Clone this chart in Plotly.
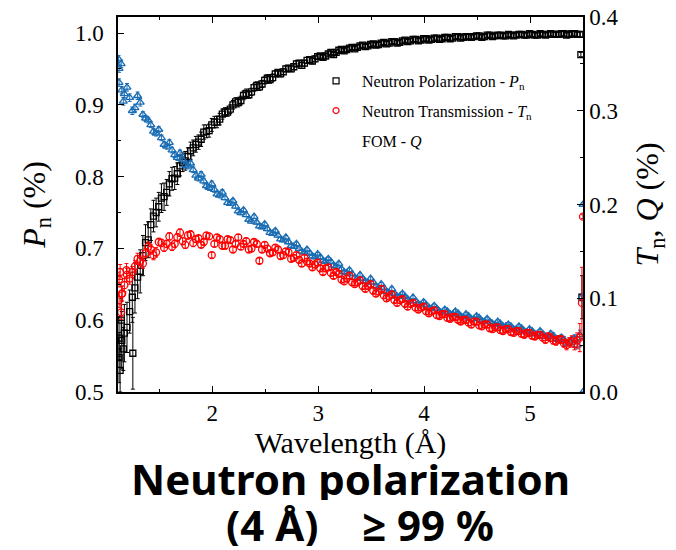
import plotly.graph_objects as go

# ---- measurement set A ----
wavelength = [1.12, 1.17, 1.22, 1.27, 1.32, 1.37, 1.42, 1.47, 1.52, 1.57,
              1.62, 1.67, 1.72, 1.77, 1.82, 1.87, 1.92, 1.97, 2.02, 2.07,
              2.12, 2.17, 2.22, 2.27, 2.32, 2.37, 2.42, 2.47, 2.52, 2.57,
              2.62, 2.67, 2.72, 2.77, 2.82, 2.87, 2.92, 2.97, 3.02, 3.07,
              3.12, 3.17, 3.22, 3.27, 3.32, 3.37, 3.42, 3.47, 3.52, 3.57,
              3.62, 3.67, 3.72, 3.77, 3.82, 3.87, 3.92, 3.97, 4.02, 4.07,
              4.12, 4.17, 4.22, 4.27, 4.32, 4.37, 4.42, 4.47, 4.52, 4.57,
              4.62, 4.67, 4.72, 4.77, 4.82, 4.87, 4.92, 4.97, 5.02, 5.07,
              5.12, 5.17, 5.22, 5.27, 5.32, 5.37, 5.42, 5.47]

polarization = [0.548, 0.582, 0.612, 0.645, 0.668, 0.708, 0.733, 0.750, 0.770, 0.778,
                0.797, 0.804, 0.820, 0.828, 0.840, 0.848, 0.862, 0.864, 0.876, 0.880,
                0.890, 0.894, 0.904, 0.906, 0.916, 0.918, 0.927, 0.929, 0.937, 0.938,
                0.945, 0.946, 0.951, 0.953, 0.958, 0.958, 0.963, 0.964, 0.968, 0.968,
                0.973, 0.973, 0.977, 0.977, 0.980, 0.980, 0.983, 0.982, 0.985, 0.984,
                0.987, 0.986, 0.988, 0.987, 0.990, 0.989, 0.991, 0.990, 0.992, 0.991,
                0.993, 0.992, 0.994, 0.993, 0.995, 0.994, 0.995, 0.995, 0.996, 0.995,
                0.997, 0.996, 0.997, 0.996, 0.997, 0.997, 0.998, 0.997, 0.998, 0.997,
                0.998, 0.998, 0.998, 0.998, 0.999, 0.998, 0.999, 0.998]
polarization_err = [0.035, 0.040, 0.030, 0.035, 0.030, 0.025, 0.022, 0.020, 0.020, 0.018,
                    0.016, 0.015, 0.013, 0.012, 0.011, 0.010, 0.010, 0.009, 0.008, 0.008,
                    0.006, 0.006, 0.006, 0.006, 0.006, 0.005, 0.005, 0.005, 0.005, 0.005,
                    0.004, 0.004, 0.004, 0.004, 0.004, 0.004, 0.004, 0.004, 0.003, 0.003,
                    0.003, 0.003, 0.003, 0.003, 0.003, 0.003, 0.003, 0.003, 0.003, 0.003,
                    0.003, 0.003, 0.003, 0.003, 0.003, 0.003, 0.003, 0.003, 0.003, 0.003,
                    0.003, 0.003, 0.003, 0.003, 0.003, 0.003, 0.003, 0.003, 0.003, 0.003,
                    0.003, 0.003, 0.003, 0.003, 0.003, 0.003, 0.003, 0.003, 0.003, 0.003,
                    0.003, 0.003, 0.003, 0.003, 0.003, 0.003, 0.003, 0.003]

transmission = [0.098, 0.114, 0.121, 0.134, 0.140, 0.148, 0.152, 0.149, 0.159, 0.158,
                0.155, 0.165, 0.161, 0.167, 0.159, 0.164, 0.160, 0.166, 0.158, 0.163,
                0.156, 0.162, 0.158, 0.155, 0.161, 0.153, 0.158, 0.152, 0.153, 0.149,
                0.152, 0.146, 0.149, 0.143, 0.141, 0.143, 0.137, 0.136, 0.132, 0.132,
                0.127, 0.128, 0.120, 0.121, 0.117, 0.117, 0.113, 0.113, 0.108, 0.107,
                0.103, 0.102, 0.098, 0.098, 0.094, 0.094, 0.090, 0.090, 0.086, 0.086,
                0.082, 0.083, 0.079, 0.080, 0.077, 0.077, 0.074, 0.075, 0.071, 0.072,
                0.068, 0.069, 0.066, 0.067, 0.064, 0.065, 0.062, 0.063, 0.060, 0.061,
                0.058, 0.059, 0.055, 0.056, 0.052, 0.053, 0.051, 0.058]
transmission_err = [0.008, 0.007, 0.006, 0.006, 0.005, 0.005, 0.005, 0.005, 0.004, 0.004,
                    0.004, 0.004, 0.004, 0.004, 0.004, 0.003, 0.003, 0.003, 0.003, 0.003,
                    0.003, 0.003, 0.003, 0.003, 0.003, 0.003, 0.003, 0.003, 0.003, 0.003,
                    0.003, 0.003, 0.003, 0.003, 0.003, 0.003, 0.003, 0.003, 0.003, 0.003,
                    0.003, 0.003, 0.003, 0.003, 0.003, 0.003, 0.003, 0.003, 0.003, 0.003,
                    0.003, 0.003, 0.003, 0.003, 0.003, 0.003, 0.003, 0.003, 0.003, 0.003,
                    0.003, 0.003, 0.003, 0.003, 0.003, 0.003, 0.003, 0.003, 0.003, 0.003,
                    0.003, 0.003, 0.003, 0.003, 0.003, 0.003, 0.003, 0.003, 0.003, 0.003,
                    0.003, 0.004, 0.004, 0.004, 0.004, 0.005, 0.006, 0.015]

fom = [0.345, 0.318, 0.314, 0.303, 0.309, 0.292, 0.285, 0.276, 0.271, 0.262,
       0.258, 0.250, 0.248, 0.241, 0.237, 0.228, 0.225, 0.218, 0.216, 0.210,
       0.207, 0.201, 0.198, 0.191, 0.189, 0.182, 0.181, 0.176, 0.174, 0.169,
       0.167, 0.162, 0.160, 0.155, 0.153, 0.149, 0.148, 0.144, 0.144, 0.139,
       0.139, 0.134, 0.131, 0.127, 0.126, 0.121, 0.121, 0.117, 0.117, 0.111,
       0.111, 0.106, 0.105, 0.102, 0.102, 0.097, 0.097, 0.093, 0.093, 0.089,
       0.089, 0.085, 0.086, 0.083, 0.084, 0.080, 0.081, 0.078, 0.079, 0.075,
       0.075, 0.072, 0.073, 0.070, 0.070, 0.067, 0.068, 0.064, 0.065, 0.062,
       0.062, 0.059, 0.060, 0.056, 0.056, 0.053, 0.057, 0.061]
fom_err = [0.004, 0.004, 0.004, 0.004, 0.004, 0.003, 0.003, 0.003, 0.003, 0.003,
           0.003, 0.003, 0.003, 0.003, 0.003, 0.003, 0.003, 0.003, 0.003, 0.003,
           0.002, 0.002, 0.002, 0.002, 0.002, 0.002, 0.002, 0.002, 0.002, 0.002,
           0.002, 0.002, 0.002, 0.002, 0.002, 0.002, 0.002, 0.002, 0.002, 0.002,
           0.002, 0.002, 0.002, 0.002, 0.002, 0.002, 0.002, 0.002, 0.002, 0.002,
           0.002, 0.002, 0.002, 0.002, 0.002, 0.002, 0.002, 0.002, 0.002, 0.002,
           0.002, 0.002, 0.002, 0.002, 0.002, 0.002, 0.002, 0.002, 0.002, 0.002,
           0.002, 0.002, 0.002, 0.002, 0.002, 0.002, 0.002, 0.002, 0.002, 0.002,
           0.002, 0.002, 0.003, 0.003, 0.003, 0.003, 0.004, 0.005]

# ---- measurement set B (interleaved wavelengths) ----
wavelength_b = [1.145, 1.195, 1.245, 1.295, 1.345, 1.395, 1.445, 1.495, 1.545, 1.595,
                1.645, 1.695, 1.745, 1.795, 1.845, 1.895, 1.945, 1.995, 2.045, 2.095,
                2.145, 2.195, 2.245, 2.295, 2.345, 2.395, 2.445, 2.495, 2.545, 2.595,
                2.645, 2.695, 2.745, 2.795, 2.845, 2.895, 2.945, 2.995, 3.045, 3.095,
                3.145, 3.195, 3.245, 3.295, 3.345, 3.395, 3.445, 3.495, 3.545, 3.595,
                3.645, 3.695, 3.745, 3.795, 3.845, 3.895, 3.945, 3.995, 4.045, 4.095,
                4.145, 4.195, 4.245, 4.295, 4.345, 4.395, 4.445, 4.495, 4.545, 4.595,
                4.645, 4.695, 4.745, 4.795, 4.845, 4.895, 4.945, 4.995, 5.045, 5.095,
                5.145, 5.195, 5.245, 5.295, 5.345, 5.395, 5.445]

polarization_b = [0.572, 0.590, 0.632, 0.660, 0.690, 0.712, 0.745, 0.758, 0.772, 0.790,
                  0.798, 0.815, 0.822, 0.836, 0.845, 0.852, 0.863, 0.872, 0.876, 0.887,
                  0.890, 0.900, 0.903, 0.913, 0.914, 0.924, 0.925, 0.934, 0.935, 0.943,
                  0.943, 0.950, 0.950, 0.957, 0.955, 0.962, 0.961, 0.967, 0.966, 0.971,
                  0.970, 0.976, 0.975, 0.979, 0.978, 0.982, 0.981, 0.984, 0.983, 0.986,
                  0.985, 0.988, 0.986, 0.989, 0.988, 0.991, 0.989, 0.992, 0.990, 0.993,
                  0.991, 0.994, 0.992, 0.995, 0.993, 0.995, 0.994, 0.996, 0.994, 0.997,
                  0.995, 0.997, 0.996, 0.998, 0.996, 0.998, 0.997, 0.999, 0.997, 0.999,
                  0.997, 0.999, 0.998, 0.999, 0.997, 0.999, 0.998]
polarization_b_err = [0.040, 0.035, 0.035, 0.030, 0.028, 0.025, 0.022, 0.020, 0.019, 0.017,
                      0.016, 0.014, 0.013, 0.012, 0.011, 0.010, 0.009, 0.009, 0.008, 0.007,
                      0.006, 0.006, 0.006, 0.006, 0.005, 0.005, 0.005, 0.005, 0.005, 0.004,
                      0.004, 0.004, 0.004, 0.004, 0.004, 0.004, 0.004, 0.003, 0.003, 0.003,
                      0.003, 0.003, 0.003, 0.003, 0.003, 0.003, 0.003, 0.003, 0.003, 0.003,
                      0.003, 0.003, 0.003, 0.003, 0.003, 0.003, 0.003, 0.003, 0.003, 0.003,
                      0.003, 0.003, 0.003, 0.003, 0.003, 0.003, 0.003, 0.003, 0.003, 0.003,
                      0.003, 0.003, 0.003, 0.003, 0.003, 0.003, 0.003, 0.003, 0.003, 0.003,
                      0.003, 0.003, 0.003, 0.003, 0.003, 0.003, 0.003]

transmission_b = [0.105, 0.125, 0.128, 0.142, 0.137, 0.155, 0.146, 0.160, 0.154, 0.166,
                  0.158, 0.170, 0.157, 0.168, 0.163, 0.157, 0.167, 0.146, 0.165, 0.156,
                  0.163, 0.152, 0.165, 0.158, 0.152, 0.160, 0.140, 0.157, 0.148, 0.154,
                  0.145, 0.150, 0.142, 0.146, 0.137, 0.139, 0.133, 0.138, 0.128, 0.133,
                  0.124, 0.126, 0.118, 0.124, 0.115, 0.119, 0.110, 0.115, 0.105, 0.110,
                  0.100, 0.104, 0.095, 0.099, 0.091, 0.095, 0.088, 0.091, 0.084, 0.087,
                  0.081, 0.083, 0.078, 0.080, 0.075, 0.077, 0.072, 0.075, 0.070, 0.072,
                  0.067, 0.069, 0.065, 0.067, 0.063, 0.065, 0.061, 0.063, 0.059, 0.061,
                  0.056, 0.058, 0.054, 0.056, 0.050, 0.054, 0.055]
transmission_b_err = [0.008, 0.007, 0.006, 0.006, 0.005, 0.005, 0.005, 0.004, 0.004, 0.004,
                      0.004, 0.004, 0.004, 0.004, 0.003, 0.003, 0.003, 0.003, 0.003, 0.003,
                      0.003, 0.003, 0.003, 0.003, 0.003, 0.003, 0.003, 0.003, 0.003, 0.003,
                      0.003, 0.003, 0.003, 0.003, 0.003, 0.003, 0.003, 0.003, 0.003, 0.003,
                      0.003, 0.003, 0.003, 0.003, 0.003, 0.003, 0.003, 0.003, 0.003, 0.003,
                      0.003, 0.003, 0.003, 0.003, 0.003, 0.003, 0.003, 0.003, 0.003, 0.003,
                      0.003, 0.003, 0.003, 0.003, 0.003, 0.003, 0.003, 0.003, 0.003, 0.003,
                      0.003, 0.003, 0.003, 0.003, 0.003, 0.003, 0.003, 0.003, 0.003, 0.003,
                      0.004, 0.004, 0.004, 0.004, 0.005, 0.006, 0.008]

fom_b = [0.322, 0.325, 0.300, 0.316, 0.296, 0.290, 0.278, 0.280, 0.264, 0.266,
         0.253, 0.255, 0.242, 0.244, 0.231, 0.232, 0.220, 0.222, 0.211, 0.213,
         0.202, 0.204, 0.193, 0.194, 0.184, 0.187, 0.177, 0.179, 0.170, 0.172,
         0.163, 0.165, 0.156, 0.158, 0.150, 0.152, 0.145, 0.147, 0.140, 0.142,
         0.135, 0.137, 0.128, 0.130, 0.122, 0.125, 0.118, 0.121, 0.113, 0.115,
         0.107, 0.110, 0.102, 0.105, 0.099, 0.101, 0.094, 0.096, 0.090, 0.092,
         0.086, 0.088, 0.083, 0.086, 0.081, 0.083, 0.078, 0.081, 0.076, 0.078,
         0.073, 0.075, 0.070, 0.072, 0.067, 0.070, 0.065, 0.067, 0.062, 0.065,
         0.059, 0.062, 0.057, 0.058, 0.052, 0.055, 0.050]
fom_b_err = [0.004, 0.004, 0.004, 0.004, 0.003, 0.003, 0.003, 0.003, 0.003, 0.003,
             0.003, 0.003, 0.003, 0.003, 0.003, 0.003, 0.003, 0.003, 0.003, 0.003,
             0.002, 0.002, 0.002, 0.002, 0.002, 0.002, 0.002, 0.002, 0.002, 0.002,
             0.002, 0.002, 0.002, 0.002, 0.002, 0.002, 0.002, 0.002, 0.002, 0.002,
             0.002, 0.002, 0.002, 0.002, 0.002, 0.002, 0.002, 0.002, 0.002, 0.002,
             0.002, 0.002, 0.002, 0.002, 0.002, 0.002, 0.002, 0.002, 0.002, 0.002,
             0.002, 0.002, 0.002, 0.002, 0.002, 0.002, 0.002, 0.002, 0.002, 0.002,
             0.002, 0.002, 0.002, 0.002, 0.002, 0.002, 0.002, 0.002, 0.002, 0.002,
             0.002, 0.003, 0.003, 0.003, 0.003, 0.004, 0.004]

# ---- additional scattered points at the band edges ----
pol_extra_x = [1.12, 1.13, 1.14, 1.16, 1.25, 5.48, 5.49]
pol_extra_y = [0.575, 0.530, 0.600, 0.560, 0.554, 0.970, 0.632]
pol_extra_err = [0.030, 0.030, 0.030, 0.030, 0.050, 0.003, 0.030]
tr_extra_x = [1.12, 1.13, 1.14, 1.15, 1.19, 5.49, 5.50]
tr_extra_y = [0.120, 0.128, 0.085, 0.105, 0.130, 0.095, 0.187]
tr_extra_err = [0.008, 0.008, 0.008, 0.008, 0.007, 0.038, 0.002]
fom_extra_x = [1.115, 1.12, 1.14, 1.16, 5.49, 5.50, 5.50]
fom_extra_y = [0.355, 0.330, 0.350, 0.310, 0.101, 0.200, 0.000]
fom_extra_err = [0.004, 0.004, 0.004, 0.004, 0.004, 0.002, 0.000]

# tick labels
x_ticks = [2, 3, 4, 5]
left_ticks = [0.5, 0.6, 0.7, 0.8, 0.9, 1.0]
right_ticks = [0.0, 0.1, 0.2, 0.3, 0.4]

BLUE = "#1a6db3"
RED = "#ff0000"
SERIF = "Liberation Serif, Times New Roman, serif"
SANS = "Noto Sans, Open Sans, sans-serif"

fig = go.Figure()

fig.add_trace(go.Scatter(
    x=wavelength + wavelength_b + fom_extra_x, y=fom + fom_b + fom_extra_y, yaxis="y2", mode="markers",
    marker=dict(symbol="triangle-up-open", size=7, color=BLUE, line=dict(width=1.3)),
    error_y=dict(type="data", array=fom_err + fom_b_err + fom_extra_err, color=BLUE, thickness=1, width=2),
    showlegend=False))
fig.add_trace(go.Scatter(
    x=wavelength + wavelength_b + tr_extra_x, y=transmission + transmission_b + tr_extra_y,
    yaxis="y2", mode="markers",
    marker=dict(symbol="circle-open", size=7, color=RED, line=dict(width=1.3)),
    error_y=dict(type="data", array=transmission_err + transmission_b_err + tr_extra_err,
                 color=RED, thickness=1, width=2),
    showlegend=False))
fig.add_trace(go.Scatter(
    x=wavelength + wavelength_b + pol_extra_x, y=polarization + polarization_b + pol_extra_y,
    yaxis="y", mode="markers",
    marker=dict(symbol="square-open", size=6, color="black", line=dict(width=1.3)),
    error_y=dict(type="data", array=polarization_err + polarization_b_err + pol_extra_err,
                 color="black", thickness=1, width=2),
    showlegend=False))

# legend entries
fig.add_trace(go.Scatter(x=[None], y=[None], mode="markers", legendgroup="a",
                         name="Neutron Polarization - <i>P</i><sub>n</sub>",
                         marker=dict(symbol="square-open", size=6, color="black", line=dict(width=1.2))))
fig.add_trace(go.Scatter(x=[None], y=[None], mode="markers", legendgroup="b",
                         name="Neutron Transmission - <i>T</i><sub>n</sub>",
                         marker=dict(symbol="circle-open", size=6, color=RED, line=dict(width=1.2))))
fig.add_trace(go.Scatter(x=[None], y=[None], mode="markers", legendgroup="c",
                         name="FOM - <i>Q</i>",
                         marker=dict(symbol="triangle-up-open", size=6, color="rgba(0,0,0,0)")))

axis_common = dict(showline=True, linecolor="black", linewidth=1.5, ticks="inside",
                   ticklen=6, tickwidth=1.2, tickcolor="black", showgrid=False, zeroline=False,
                   automargin=False, ticklabeloverflow="allow",
                   tickfont=dict(family=SERIF, size=23, color="black"))

fig.update_layout(
    width=668, height=542,
    margin=dict(l=110, r=93, t=9, b=158, autoexpand=False),
    paper_bgcolor="white", plot_bgcolor="white",
    font=dict(family=SERIF, color="black"),
    xaxis=dict(range=[1.11, 5.5], tickmode="array", tickvals=x_ticks, mirror="ticks",
               minor=dict(dtick=0.5, tick0=0, ticks="inside", ticklen=3, tickcolor="black"),
               title=dict(text="Wavelength (Å)", font=dict(family=SERIF, size=30), standoff=0),
               **axis_common),
    yaxis=dict(range=[0.5, 1.0223], tickmode="array", tickvals=left_ticks, tickformat=".1f",
               ticklabelstandoff=8,
               minor=dict(dtick=0.05, tick0=0, ticks="inside", ticklen=3, tickcolor="black"),
               title=dict(text="<i>P</i><sub>n</sub> (%)", font=dict(family=SERIF, size=32), standoff=20),
               **axis_common),
    yaxis2=dict(range=[0, 0.4], tickmode="array", tickvals=right_ticks, tickformat=".1f",
                overlaying="y", side="right",
                minor=dict(dtick=0.05, tick0=0, ticks="inside", ticklen=3, tickcolor="black"),
                title=dict(text="<i>T</i><sub>n</sub>, <i>Q</i> (%)", font=dict(family=SERIF, size=32),
                           standoff=18),
                **axis_common),
    legend=dict(x=0.413, y=0.875, xanchor="left", yanchor="top", bgcolor="rgba(0,0,0,0)",
                font=dict(family=SERIF, size=16, color="black"), tracegroupgap=6, itemwidth=42),
    annotations=[
        dict(text="<b>Neutron polarization</b>", xref="paper", yref="paper", x=0.5, y=-0.23,
             xanchor="center", yanchor="middle", showarrow=False, height=44, valign="middle",
             font=dict(family=SANS, size=42, color="black")),
        dict(text="<b>(4 Å)\u00a0\u00a0\u00a0\u00a0≥ 99\u00a0%</b>", xref="paper", yref="paper",
             x=0.52, y=-0.353,
             xanchor="center", yanchor="middle", showarrow=False, height=44, valign="middle",
             font=dict(family=SANS, size=42, color="black")),
    ],
)

fig.write_html("out.html")
